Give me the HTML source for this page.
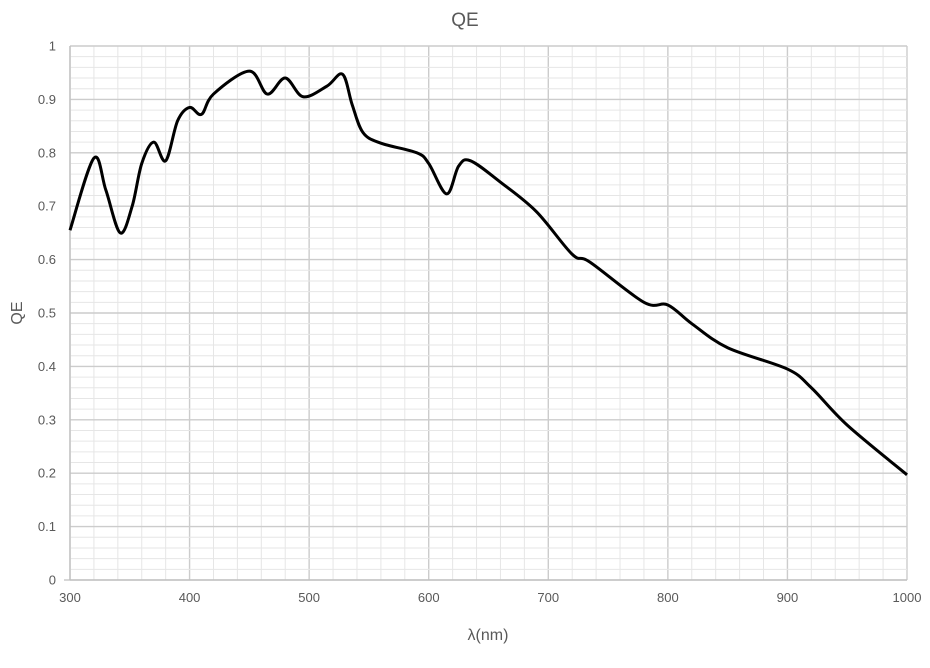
<!DOCTYPE html><html><head><style>body{margin:0;background:#fff}svg{display:block;font-family:"Liberation Sans",sans-serif}</style></head><body>
<svg id="s" width="930" height="668" xmlns="http://www.w3.org/2000/svg">
<g id="grid"></g>
<text x="465" y="26" text-anchor="middle" font-size="19" fill="#595959">QE</text>
<text x="488" y="640" text-anchor="middle" font-size="16" fill="#595959">λ(nm)</text>
<text transform="translate(22,313) rotate(-90)" text-anchor="middle" font-size="16" fill="#595959">QE</text>
<path id="c" fill="none" stroke="#000" stroke-width="3"/>
</svg>
<script>
const X=n=>70+(n-300)*837/700, Y=v=>580-v*534;
let g='';
for(let n=300;n<=1000;n+=20){const x=X(n),maj=(n%100==0);g+=`<line x1="${x}" y1="46" x2="${x}" y2="580" stroke="${maj?'#cccccc':'#e6e6e6'}" stroke-width="${maj?1.4:1}"/>`;
 if(maj)g+=`<text x="${x}" y="602" text-anchor="middle" font-size="13" fill="#595959">${n}</text>`;}
for(let i=0;i<=50;i++){const v=i/50,y=Y(v),maj=(i%5==0);g+=`<line x1="70" y1="${y}" x2="907" y2="${y}" stroke="${maj?'#cccccc':'#e6e6e6'}" stroke-width="${maj?1.4:1}"/>`;
 if(maj)g+=`<text x="56" y="${y+4.5}" text-anchor="end" font-size="13" fill="#595959">${+(v.toFixed(1))}</text>`;}
g+=`<line x1="64" y1="580" x2="907" y2="580" stroke="#bfbfbf" stroke-width="1.3"/><line x1="70" y1="46" x2="70" y2="580" stroke="#bfbfbf" stroke-width="1.3"/>`;
document.getElementById('grid').innerHTML=g;
const d=[[300,.655],[320,.79],[330,.73],[342,.65],[352,.70],[360,.78],[370,.82],[380,.785],[390,.86],[400,.885],[410,.872],[420,.91],[450,.953],[465,.91],[480,.94],[495,.905],[515,.925],[528,.947],[536,.89],[545,.838],[560,.818],[590,.80],[600,.78],[615,.723],[625,.775],[635,.785],[660,.745],[690,.69],[720,.61],[735,.595],[780,.52],[800,.515],[820,.48],[850,.435],[900,.395],[920,.36],[950,.29],[1000,.197]].map(p=>[X(p[0]),Y(p[1])]);
let s=`M${d[0]}`;
for(let i=0;i<d.length-1;i++){const p0=d[i-1]||d[i],p1=d[i],p2=d[i+1],p3=d[i+2]||p2,t=6;
s+=`C${p1[0]+(p2[0]-p0[0])/t},${p1[1]+(p2[1]-p0[1])/t} ${p2[0]-(p3[0]-p1[0])/t},${p2[1]-(p3[1]-p1[1])/t} ${p2[0]},${p2[1]}`;}
document.getElementById('c').setAttribute('d',s);
</script></body></html>
